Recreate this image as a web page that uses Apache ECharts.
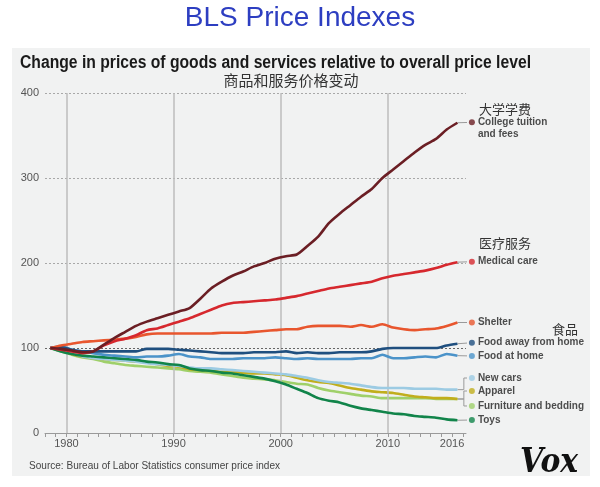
<!DOCTYPE html>
<html><head><meta charset="utf-8">
<script src="https://cdn.jsdelivr.net/npm/echarts@6/dist/echarts.min.js"></script>
<style>html,body{margin:0;padding:0;background:#fff;}#c{width:600px;height:487px;}</style>
</head><body><div id="c"></div>
<script>
// ---------- data ----------
const years = [1978,1979,1980,1981,1982,1983,1984,1985,1986,1987,
               1988,1989,1990,1991,1992,1993,1994,1995,1996,1997,
               1998,1999,2000,2001,2002,2003,2004,2005,2006,2007,
               2008,2009,2010,2011,2012,2013,2014,2015,2016];
const college   = [100,99,97,95,96,104,112,119,126,131, 135,139,143,147,158,170,178,185,190,196, 200,205,208,210,220,231,247,258,268,278, 287,300,310,320,330,339,346,357,365];
const medical   = [100,98,96,94,96,103,108,111,115,121, 123,127,131,135,140,145,150,153,154,155, 156,157,159,161,164,167,170,172,174,176, 178,182,185,187,189,191,194,198,201];
const shelter   = [100,103,105,107,108,109,110,111,113,116, 117,117,117,117,117,117,118,118,118,119, 120,121,122,122,125,126,126,126,125,127, 125,128,124,122,121,122,123,126,130];
const foodAway  = [100,101,98,96,96,96,96,96,96,99, 99,99,98,97,96,95,94,94,94,95, 95,95,96,94,95,94,94,95,95,95, 96,99,100,100,100,100,100,103,105];
const foodHome  = [100,102,98,96,94,92,91,90,89,90, 90,91,93,90,89,87,87,87,88,88, 88,89,88,87,88,87,87,87,87,88, 88,92,88,88,89,90,89,93,91];
const newCars   = [100,98,94,90,88,87,86,85,84,82, 81,80,79,77,76,76,75,74,73,72, 71,70,69,67,65,62,60,59,58,56, 54,53,53,53,52,52,52,51,51];
const apparel   = [100,97,93,90,88,87,86,85,84,83, 81,79,78,75,74,73,72,72,71,70, 70,69,68,65,62,60,59,56,53,51, 49,48,47,45,43,42,41,41,40];
const furniture = [100,96,92,89,87,84,82,80,79,78, 77,76,75,73,72,71,69,67,65,64, 63,62,60,58,57,53,50,48,46,44, 43,41,41,41,41,41,40,40,40];
const toys      = [100,96,93,91,90,89,88,87,86,84, 83,81,80,76,74,73,71,70,68,66, 64,61,57,52,47,41,38,36,32,29, 27,25,23,22,20,19,18,16,15];

const names  = ['College tuition\nand fees','Medical care','Shelter','Food away from home','Food at home','New cars','Apparel','Furniture and bedding','Toys'];
const colors = ['#6b1e24','#d6282e','#e8562e','#1f4f7f','#4b93c9','#9ccbe3','#c1ae1c','#9fd06a','#11844a'];
const values = [college, medical, shelter, foodAway, foodHome, newCars, apparel, furniture, toys];
const labelAt   = [365.5, 201.5, 130, 106.2, 90.6, 64.7, 49.4, 31.8, 15.3];   // label dot levels (index units)
const bracketed = [false,false,false,false,false,true,true,true,false];
const cnNotes = [{i:0, text:'大学学费', dx:33, dy:-13}, {i:1, text:'医疗服务', dx:33, dy:-19}, {i:3, text:'食品', dx:93, dy:-14}];
const tickLabels  = [1980,1990,2000,2010,2016];
const decadeLines = [1980,1990,2000,2010];
const tickYears = years.concat([2017]);

const dotX = 2017.85, bracketX = 2017.1, mid = 0.5;

// ---------- helpers ----------
function fit(text, font, target){
  const c = document.createElement('canvas').getContext('2d');
  c.font = font; return target / c.measureText(text).width;
}

const chart = echarts.init(document.getElementById('c'), null, {renderer:'canvas'});
const drawOrder = [7,6,5,8,4,3,2,1,0];
const series = [];

drawOrder.forEach((k, n) => {
  const s = {
    name: names[k], type:'line', data: years.map((y,j)=>[y+mid, values[k][j]]),
    showSymbol:false, symbol:'none', smooth:0.25, clip:false,
    lineStyle:{color:colors[k], width:2.6}, itemStyle:{color:colors[k]},
    z: 3 + n, silent:true, animation:false
  };
  if (n === 0) {
    s.markLine = {
      silent:true, symbol:['none','none'], label:{show:false}, animation:false,
      data: decadeLines.map(v=>({xAxis:v, lineStyle:{color:'#bdbdbd', width:1.5, type:'solid'}}))
        .concat([{yAxis:100, lineStyle:{color:'#666', width:1, type:[2,2]}}])
    };
  }
  series.push(s);
});

// connectors
values.forEach((v,k) => {
  const lx = years[years.length-1] + mid, lv = v[v.length-1];
  const pts = bracketed[k]
    ? [[lx,lv],[bracketX,lv],[bracketX,labelAt[k]],[dotX,labelAt[k]]]
    : [[lx,lv],[dotX,labelAt[k]]];
  series.push({type:'line', data:pts, symbol:'none', clip:false, silent:true, animation:false,
    lineStyle:{color:'#9a9a9a', width:1}, z:2});
});

// dots + labels
values.forEach((v,k) => {
  series.push({type:'scatter', data:[[dotX, labelAt[k]]], symbolSize:6, clip:false, silent:true, animation:false,
    itemStyle:{color:colors[k]}, z:20,
    label:{show:true, position:'right', distance:3, formatter:names[k], color:'#222',
      fontFamily:'Liberation Sans', fontWeight:'bold', fontSize:10, lineHeight:12,
      offset:[0, k===0 ? 6 : 0]}});
});

const option = {
  backgroundColor:'#ffffff',
  animation:false,
  grid:{left:45, top:93, width:421, height:340},
  xAxis:{type:'value', min:1978, max:2017.3,
    axisLine:{show:true, lineStyle:{color:'#9a9a9a', width:1}},
    axisTick:{show:true, customValues:tickYears, length:4, lineStyle:{color:'#9a9a9a'}},
    axisLabel:{customValues:tickLabels, color:'#555', fontSize:11, fontFamily:'Liberation Sans', margin:5,
      formatter:v=>String(Math.round(v))},
    splitLine:{show:false}},
  yAxis:{type:'value', min:0, max:400, interval:100,
    axisLine:{show:false}, axisTick:{show:false},
    axisLabel:{color:'#555', fontSize:11, fontFamily:'Liberation Sans', margin:6},
    splitLine:{show:true, lineStyle:{color:'#a8a8a8', width:1, type:[2,2]}}},
  series: series
};
chart.setOption(option);

// ---------- text / decorations ----------
const titleTxt = 'Change in prices of goods and services relative to overall price level';
const titleFont = 'bold 18px "Liberation Sans"';
const srcTxt = 'Source: Bureau of Labor Statistics consumer price index';
const srcFont = '11px "Liberation Sans"';
const voxFont = 'bold italic 34px "DejaVu Serif"';

const graphics = [
  {type:'rect', z:-100, shape:{x:12, y:48, width:578, height:428}, style:{fill:'#f1f2f2'}, silent:true},
  {type:'text', x:300, y:18, style:{text:'BLS Price Indexes', font:'28px "Liberation Sans"', fill:'#2d3ec1', textAlign:'center', textVerticalAlign:'middle'}},
  {type:'text', x:20, y:63, scaleX:fit(titleTxt, titleFont, 511), style:{text:titleTxt, font:titleFont, fill:'#1a1a1a', textAlign:'left', textVerticalAlign:'middle'}},
  {type:'text', x:291, y:80, style:{text:'商品和服务价格变动', font:'15px "Noto Sans CJK SC"', fill:'#333', textAlign:'center', textVerticalAlign:'middle'}},
  {type:'text', x:29, y:466, scaleX:fit(srcTxt, srcFont, 251), style:{text:srcTxt, font:srcFont, fill:'#444', textAlign:'left', textVerticalAlign:'middle'}},
  {type:'text', x:520, y:463, scaleX:fit('Vox', voxFont, 58), style:{text:'Vox', font:voxFont, fill:'#111', textAlign:'left', textVerticalAlign:'middle'}}
];
cnNotes.forEach(n => {
  const p = chart.convertToPixel({xAxisIndex:0, yAxisIndex:0}, [dotX, labelAt[n.i]]);
  graphics.push({type:'text', x:p[0]+n.dx, y:p[1]+n.dy, style:{text:n.text, font:'13px "Noto Sans CJK SC"', fill:'#333', textAlign:'center', textVerticalAlign:'middle'}});
});
chart.setOption({graphic:{elements:graphics}});
</script>
</body></html>
